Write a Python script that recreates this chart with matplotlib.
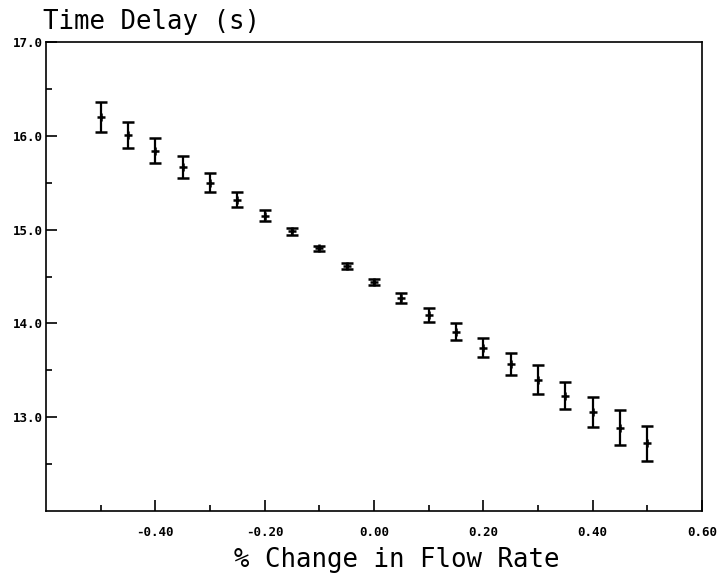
import numpy as np
import matplotlib
matplotlib.use('Agg')
import matplotlib.pyplot as plt
from matplotlib.ticker import FixedLocator, FixedFormatter

# flow rate change (%) and measured time delay (s) with error half-widths
flow_change = [-0.50, -0.45, -0.40, -0.35, -0.30, -0.25, -0.20, -0.15, -0.10, -0.05, 0.00,
               0.05, 0.10, 0.15, 0.20, 0.25, 0.30, 0.35, 0.40, 0.45, 0.50]
time_delay = [16.20, 16.01, 15.84, 15.67, 15.50, 15.32, 15.15, 14.98, 14.80, 14.61, 14.44,
              14.27, 14.09, 13.91, 13.74, 13.57, 13.40, 13.23, 13.06, 12.89, 12.72]
delay_err = [0.16, 0.14, 0.135, 0.115, 0.10, 0.08, 0.06, 0.04, 0.03, 0.03, 0.035,
             0.055, 0.075, 0.09, 0.10, 0.115, 0.155, 0.145, 0.16, 0.185, 0.19]

x_major = [-0.40, -0.20, 0.00, 0.20, 0.40, 0.60]
x_labels = ['-0.40', '-0.20', '0.00', '0.20', '0.40', '0.60']
x_minor = [-0.50, -0.30, -0.10, 0.10, 0.30, 0.50]
y_major = [13.0, 14.0, 15.0, 16.0, 17.0]
y_labels = ['13.0', '14.0', '15.0', '16.0', '17.0']
y_minor = [12.5, 13.5, 14.5, 15.5, 16.5]

W, H = 727, 574
fig = plt.figure(figsize=(W / 100, H / 100), dpi=100)
ax = fig.add_axes([46 / W, 1 - 511 / H, (702 - 46) / W, (511 - 42) / H])

ax.errorbar(flow_change, time_delay, yerr=delay_err, fmt='+', color='black',
            markersize=6, markeredgewidth=1.8, elinewidth=1.6,
            capsize=4, capthick=1.6)

ax.set_xlim(-0.6, 0.6)
ax.set_ylim(12.0, 17.0)

ax.xaxis.set_major_locator(FixedLocator(x_major))
ax.xaxis.set_major_formatter(FixedFormatter(x_labels))
ax.xaxis.set_minor_locator(FixedLocator(x_minor))
ax.yaxis.set_major_locator(FixedLocator(y_major))
ax.yaxis.set_major_formatter(FixedFormatter(y_labels))
ax.yaxis.set_minor_locator(FixedLocator(y_minor))

ax.tick_params(which='major', direction='in', length=8, width=1.2)
ax.tick_params(which='minor', direction='in', length=4, width=1.2)
ax.tick_params(axis='x', which='major', pad=11)
ax.tick_params(axis='y', which='major', pad=2)
for lab in ax.get_xticklabels() + ax.get_yticklabels():
    lab.set_family('DejaVu Sans Mono')
    lab.set_fontweight('bold')
    lab.set_fontsize(9)

for sp in ax.spines.values():
    sp.set_linewidth(1.2)

fig.text(43 / W, 1 - 29 / H, 'Time Delay (s)', family='DejaVu Sans Mono',
         fontsize=18.5, ha='left', va='baseline')
fig.text(397 / W, 1 - 567 / H, '% Change in Flow Rate', family='DejaVu Sans Mono',
         fontsize=18.5, ha='center', va='baseline')

fig.savefig('out.png', dpi=100)
